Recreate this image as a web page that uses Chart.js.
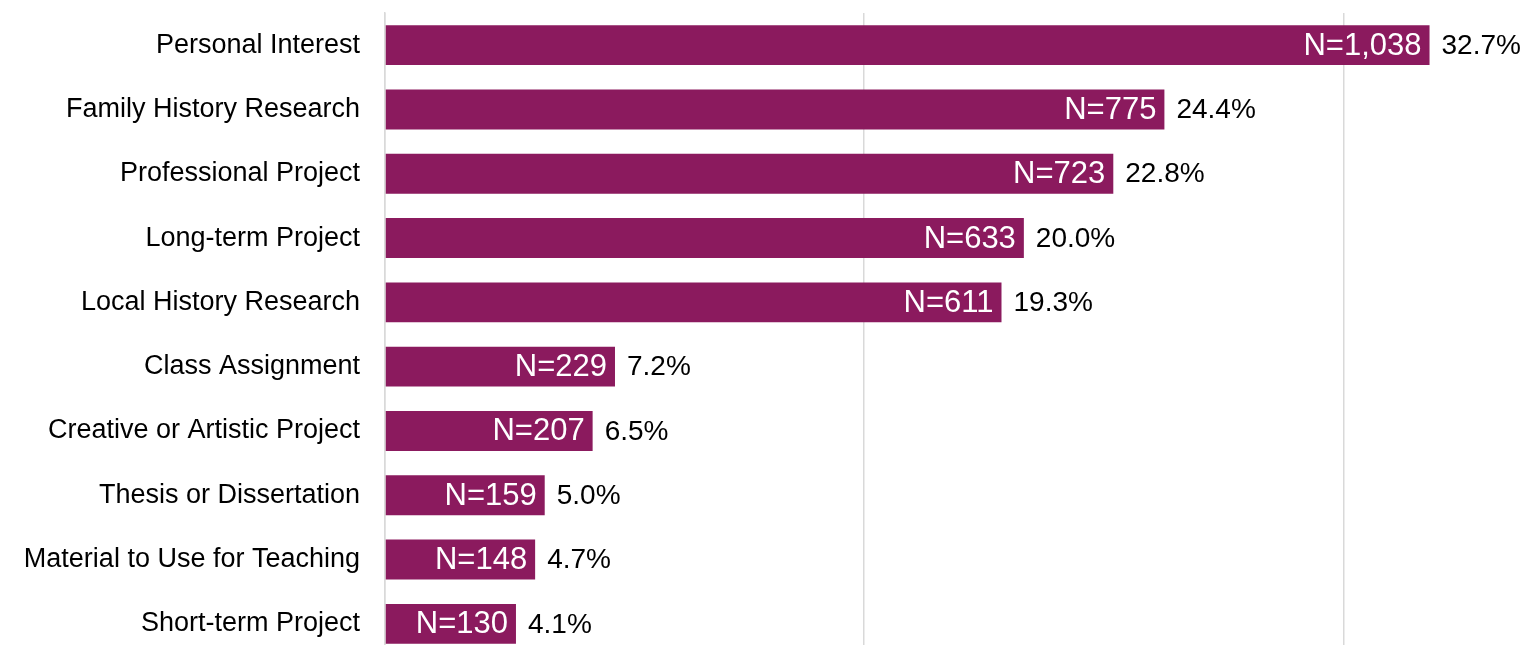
<!DOCTYPE html>
<html>
<head>
<meta charset="utf-8">
<script src="https://cdn.jsdelivr.net/npm/chart.js@4"></script>
<style>
  html, body { margin: 0; padding: 0; background: #fff; overflow: hidden; }
  #wrap { width: 1528px; height: 656px; position: relative; }
</style>
</head>
<body>
<div id="wrap"><canvas id="grafico"></canvas></div>
<script>
// Categorías y valores
const categorias = [
    'Personal Interest',
    'Family History Research',
    'Professional Project',
    'Long-term Project',
    'Local History Research',
    'Class Assignment',
    'Creative or Artistic Project',
    'Thesis or Dissertation',
    'Material to Use for Teaching',
    'Short-term Project'
];
const porcentajes = [32.7, 24.4, 22.8, 20.0, 19.3, 7.2, 6.5, 5.0, 4.7, 4.1];
const conteos = [1038, 775, 723, 633, 611, 229, 207, 159, 148, 130];
const marcasX = [0, 15, 30];

const colorBarra = '#8B1A5E';
const fuente = '"Liberation Sans", Arial, sans-serif';

// Etiquetas: N dentro de la barra, porcentaje fuera
const etiquetas = {
    id: 'etiquetas',
    afterDatasetsDraw(chart) {
        const ctx = chart.ctx;
        const meta = chart.getDatasetMeta(0);
        ctx.save();
        ctx.textBaseline = 'middle';
        meta.data.forEach((barra, i) => {
            ctx.font = '31px ' + fuente;
            ctx.fillStyle = '#ffffff';
            ctx.textAlign = 'right';
            ctx.fillText('N=' + conteos[i].toLocaleString('en-US'), barra.x - 8, barra.y + 1);
            ctx.font = '28px ' + fuente;
            ctx.fillStyle = '#000000';
            ctx.textAlign = 'left';
            ctx.fillText(porcentajes[i].toFixed(1) + '%', barra.x + 12, barra.y + 1);
        });
        ctx.restore();
    }
};

const canvas = document.getElementById('grafico');

new Chart(canvas, {
    type: 'bar',
    data: {
        labels: categorias,
        datasets: [{
            data: porcentajes,
            backgroundColor: colorBarra,
            categoryPercentage: 1,
            barPercentage: 0.62
        }]
    },
    options: {
        indexAxis: 'y',
        responsive: true,
        maintainAspectRatio: false,
        animation: false,
        layout: { padding: { top: 13, right: 25, bottom: 0, left: 0 } },
        plugins: {
            legend: { display: false },
            tooltip: { enabled: false }
        },
        scales: {
            x: {
                min: 0,
                max: 35,
                afterBuildTicks: (scale) => {
                    scale.ticks = marcasX.map(v => ({ value: v }));
                },
                afterFit: (scale) => { scale.height = 0; },
                ticks: { display: false },
                grid: { color: '#D9D9D9', lineWidth: 1.5, drawTicks: false },
                border: { display: false }
            },
            y: {
                afterFit: (scale) => {
                    scale.width = 385;
                    scale.paddingTop = 0;
                    scale.paddingBottom = 0;
                },
                ticks: {
                    color: '#000000',
                    font: { family: fuente, size: 27 },
                    padding: 25
                },
                grid: { display: false, drawTicks: false },
                border: { color: '#D9D9D9', width: 1.5 }
            }
        }
    },
    plugins: [etiquetas]
});
</script>
</body>
</html>
